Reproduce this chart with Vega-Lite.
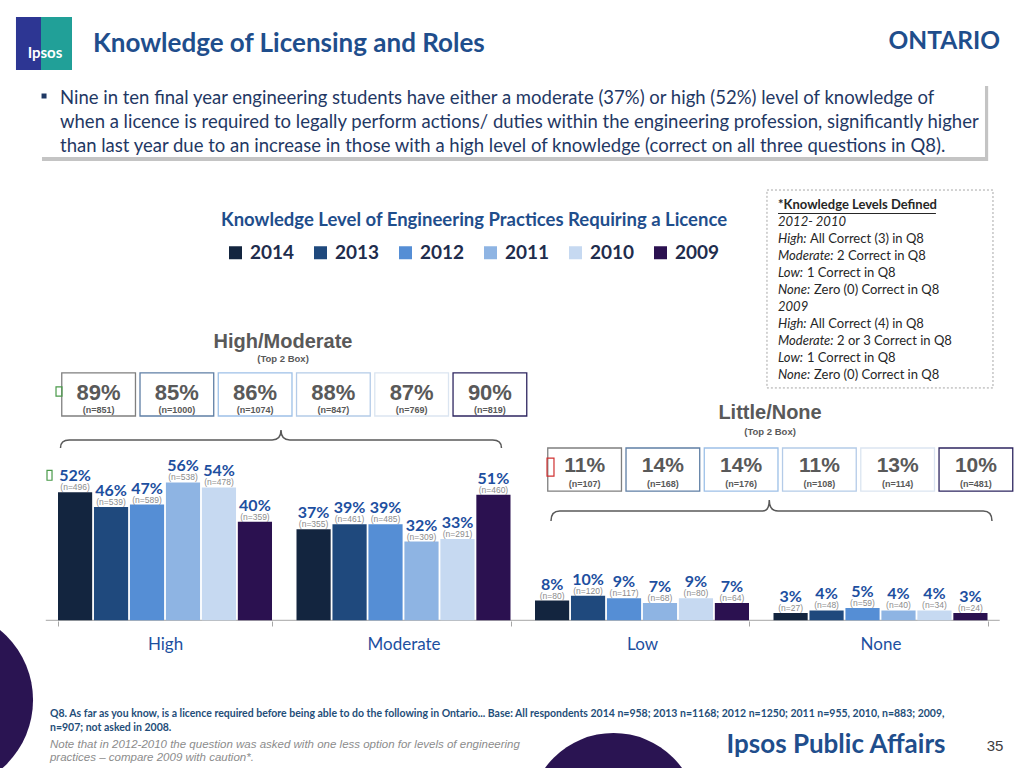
{
  "$schema": "https://vega.github.io/schema/vega-lite/v6.json",
  "width": 1024,
  "height": 768,
  "autosize": {"type": "fit", "contains": "padding"},
  "padding": 0,
  "background": "white",
  "config": {"view": {"stroke": null}, "font": "Lato"},
  "datasets": {
    "bars": [
      {"category": "High", "year": "2014", "pct": 52, "n": 496},
      {"category": "High", "year": "2013", "pct": 46, "n": 539},
      {"category": "High", "year": "2012", "pct": 47, "n": 589},
      {"category": "High", "year": "2011", "pct": 56, "n": 538},
      {"category": "High", "year": "2010", "pct": 54, "n": 478},
      {"category": "High", "year": "2009", "pct": 40, "n": 359},
      {"category": "Moderate", "year": "2014", "pct": 37, "n": 355},
      {"category": "Moderate", "year": "2013", "pct": 39, "n": 461},
      {"category": "Moderate", "year": "2012", "pct": 39, "n": 485},
      {"category": "Moderate", "year": "2011", "pct": 32, "n": 309},
      {"category": "Moderate", "year": "2010", "pct": 33, "n": 291},
      {"category": "Moderate", "year": "2009", "pct": 51, "n": 460},
      {"category": "Low", "year": "2014", "pct": 8, "n": 80},
      {"category": "Low", "year": "2013", "pct": 10, "n": 120},
      {"category": "Low", "year": "2012", "pct": 9, "n": 117},
      {"category": "Low", "year": "2011", "pct": 7, "n": 68},
      {"category": "Low", "year": "2010", "pct": 9, "n": 80},
      {"category": "Low", "year": "2009", "pct": 7, "n": 64},
      {"category": "None", "year": "2014", "pct": 3, "n": 27},
      {"category": "None", "year": "2013", "pct": 4, "n": 48},
      {"category": "None", "year": "2012", "pct": 5, "n": 59},
      {"category": "None", "year": "2011", "pct": 4, "n": 40},
      {"category": "None", "year": "2010", "pct": 4, "n": 34},
      {"category": "None", "year": "2009", "pct": 3, "n": 24}
    ],
    "summary": [
      {"group": "High/Moderate", "year": "2014", "pct": 89, "n": 851},
      {"group": "High/Moderate", "year": "2013", "pct": 85, "n": 1000},
      {"group": "High/Moderate", "year": "2012", "pct": 86, "n": 1074},
      {"group": "High/Moderate", "year": "2011", "pct": 88, "n": 847},
      {"group": "High/Moderate", "year": "2010", "pct": 87, "n": 769},
      {"group": "High/Moderate", "year": "2009", "pct": 90, "n": 819},
      {"group": "Little/None", "year": "2014", "pct": 11, "n": 107},
      {"group": "Little/None", "year": "2013", "pct": 14, "n": 168},
      {"group": "Little/None", "year": "2012", "pct": 14, "n": 176},
      {"group": "Little/None", "year": "2011", "pct": 11, "n": 108},
      {"group": "Little/None", "year": "2010", "pct": 13, "n": 114},
      {"group": "Little/None", "year": "2009", "pct": 10, "n": 481}
    ],
    "definitions": [
      {"line": 0, "label": "*Knowledge Levels Defined", "rest": ""},
      {"line": 1, "label": "2012- 2010", "rest": ""},
      {"line": 2, "label": "High:", "rest": "All Correct (3) in Q8"},
      {"line": 3, "label": "Moderate:", "rest": "2 Correct in Q8"},
      {"line": 4, "label": "Low:", "rest": "1 Correct in Q8"},
      {"line": 5, "label": "None:", "rest": "Zero (0) Correct in Q8"},
      {"line": 6, "label": "2009", "rest": ""},
      {"line": 7, "label": "High:", "rest": "All Correct (4) in Q8"},
      {"line": 8, "label": "Moderate:", "rest": "2 or 3 Correct in Q8"},
      {"line": 9, "label": "Low:", "rest": "1 Correct in Q8"},
      {"line": 10, "label": "None:", "rest": "Zero (0) Correct in Q8"}
    ]
  },
  "resolve": {"scale": {"x": "independent", "y": "independent", "xOffset": "independent"}},
  "layer": [
    {
      "data": {"values": [{}]},
      "layer": [
        {"mark": {"type": "point", "shape": "circle", "filled": true, "size": 33124, "color": "#2a1452", "opacity": 1, "clip": true},
         "encoding": {"x": {"datum": -5.66, "scale": {"domain": [0, 100], "nice": false, "zero": false}, "axis": null},
                      "y": {"datum": -32.4, "scale": {"domain": [-60, 252], "nice": false, "zero": false}, "axis": null}}},
        {"mark": {"type": "point", "shape": "circle", "filled": true, "size": 28561, "color": "#2a1452", "opacity": 1, "clip": true},
         "encoding": {"x": {"datum": 59.91, "scale": {"domain": [0, 100], "nice": false, "zero": false}, "axis": null},
                      "y": {"datum": -80.1, "scale": {"domain": [-60, 252], "nice": false, "zero": false}, "axis": null}}},
        {"mark": {"type": "rect", "color": "#2d3693"},
         "encoding": {"x": {"datum": 1.56, "scale": {"domain": [0, 100], "nice": false, "zero": false}, "axis": null}, "x2": {"datum": 7.03},
                      "y": {"datum": 245.1, "scale": {"domain": [-60, 252], "nice": false, "zero": false}, "axis": null}, "y2": {"datum": 223.6}}},
        {"mark": {"type": "rect", "color": "#21a098"},
         "encoding": {"x": {"datum": 4.0, "scale": {"domain": [0, 100], "nice": false, "zero": false}, "axis": null}, "x2": {"datum": 7.03},
                      "y": {"datum": 245.1, "scale": {"domain": [-60, 252], "nice": false, "zero": false}, "axis": null}, "y2": {"datum": 223.6}}},
        {"mark": {"type": "text", "text": "Ipsos", "font": "Lato", "fontSize": 15, "fontWeight": "bold", "color": "white", "align": "center", "baseline": "middle"},
         "encoding": {"x": {"datum": 4.39, "scale": {"domain": [0, 100], "nice": false, "zero": false}, "axis": null},
                      "y": {"datum": 230.5, "scale": {"domain": [-60, 252], "nice": false, "zero": false}, "axis": null}}},
        {"mark": {"type": "text", "text": "Knowledge of Licensing and Roles", "font": "Lato", "fontSize": 26, "fontWeight": "bold", "color": "#1f4e8c", "align": "left", "baseline": "middle"},
         "encoding": {"x": {"datum": 9.08, "scale": {"domain": [0, 100], "nice": false, "zero": false}, "axis": null},
                      "y": {"datum": 234.1, "scale": {"domain": [-60, 252], "nice": false, "zero": false}, "axis": null}}},
        {"mark": {"type": "text", "text": "ONTARIO", "font": "Lato", "fontSize": 24.5, "fontWeight": "bold", "color": "#1f4e8c", "align": "right", "baseline": "middle"},
         "encoding": {"x": {"datum": 97.66, "scale": {"domain": [0, 100], "nice": false, "zero": false}, "axis": null},
                      "y": {"datum": 234.9, "scale": {"domain": [-60, 252], "nice": false, "zero": false}, "axis": null}}},
        {"mark": {"type": "rect", "color": "#c4c4c4"},
         "encoding": {"x": {"datum": 4.1, "scale": {"domain": [0, 100], "nice": false, "zero": false}, "axis": null}, "x2": {"datum": 96.5},
                      "y": {"datum": 217.1, "scale": {"domain": [-60, 252], "nice": false, "zero": false}, "axis": null}, "y2": {"datum": 186.6}}},
        {"mark": {"type": "rect", "color": "white"},
         "encoding": {"x": {"datum": 3.9, "scale": {"domain": [0, 100], "nice": false, "zero": false}, "axis": null}, "x2": {"datum": 96.19},
                      "y": {"datum": 218.3, "scale": {"domain": [-60, 252], "nice": false, "zero": false}, "axis": null}, "y2": {"datum": 188.2}}},
        {"mark": {"type": "point", "shape": "square", "filled": true, "size": 25, "color": "#1f3864", "opacity": 1},
         "encoding": {"x": {"datum": 4.3, "scale": {"domain": [0, 100], "nice": false, "zero": false}, "axis": null},
                      "y": {"datum": 213.0, "scale": {"domain": [-60, 252], "nice": false, "zero": false}, "axis": null}}},
        {"mark": {"type": "text", "font": "Lato", "fontSize": 18.5, "color": "#1f3864", "align": "left", "baseline": "top", "lineHeight": 24,
                  "text": ["Nine in ten final year engineering students have either a moderate (37%) or high (52%) level of knowledge of",
                           "when a licence is required to legally perform actions/ duties within the engineering profession, significantly higher",
                           "than last year due to an increase in those with a high level of knowledge (correct on all three questions in Q8)."]},
         "encoding": {"x": {"datum": 5.86, "scale": {"domain": [0, 100], "nice": false, "zero": false}, "axis": null},
                      "y": {"datum": 215.9, "scale": {"domain": [-60, 252], "nice": false, "zero": false}, "axis": null}}},
        {"mark": {"type": "text", "text": "Knowledge Level of Engineering Practices Requiring a Licence", "font": "Lato", "fontSize": 18.5, "fontWeight": "bold", "color": "#1f4e8c", "align": "center", "baseline": "middle"},
         "encoding": {"x": {"datum": 46.29, "scale": {"domain": [0, 100], "nice": false, "zero": false}, "axis": null},
                      "y": {"datum": 162.6, "scale": {"domain": [-60, 252], "nice": false, "zero": false}, "axis": null}}},
        {"mark": {"type": "rect", "fill": "white", "stroke": "#a6a6a6", "strokeWidth": 1, "strokeDash": [2, 2]},
         "encoding": {"x": {"datum": 74.9, "scale": {"domain": [0, 100], "nice": false, "zero": false}, "axis": null}, "x2": {"datum": 96.97},
                      "y": {"datum": 174.8, "scale": {"domain": [-60, 252], "nice": false, "zero": false}, "axis": null}, "y2": {"datum": 94.4}}},
        {"mark": {"type": "text", "text": "High/Moderate", "font": "Liberation Sans", "fontSize": 20, "fontWeight": "bold", "color": "#595959", "align": "center", "baseline": "middle"},
         "encoding": {"x": {"datum": 27.64, "scale": {"domain": [0, 100], "nice": false, "zero": false}, "axis": null},
                      "y": {"datum": 113.06, "scale": {"domain": [-60, 252], "nice": false, "zero": false}, "axis": null}}},
        {"mark": {"type": "text", "text": "(Top 2 Box)", "font": "Liberation Sans", "fontSize": 9.5, "fontWeight": "bold", "color": "#595959", "align": "center", "baseline": "middle"},
         "encoding": {"x": {"datum": 27.64, "scale": {"domain": [0, 100], "nice": false, "zero": false}, "axis": null},
                      "y": {"datum": 106.2, "scale": {"domain": [-60, 252], "nice": false, "zero": false}, "axis": null}}},
        {"mark": {"type": "text", "text": "Little/None", "font": "Liberation Sans", "fontSize": 20, "fontWeight": "bold", "color": "#595959", "align": "center", "baseline": "middle"},
         "encoding": {"x": {"datum": 75.2, "scale": {"domain": [0, 100], "nice": false, "zero": false}, "axis": null},
                      "y": {"datum": 84.2, "scale": {"domain": [-60, 252], "nice": false, "zero": false}, "axis": null}}},
        {"mark": {"type": "text", "text": "(Top 2 Box)", "font": "Liberation Sans", "fontSize": 9.5, "fontWeight": "bold", "color": "#595959", "align": "center", "baseline": "middle"},
         "encoding": {"x": {"datum": 75.2, "scale": {"domain": [0, 100], "nice": false, "zero": false}, "axis": null},
                      "y": {"datum": 76.5, "scale": {"domain": [-60, 252], "nice": false, "zero": false}, "axis": null}}},
        {"mark": {"type": "point", "shape": "M-1,0.036Q-1,0 -0.96,0L-0.04,0Q0,0 0,-0.045Q0,0 0.04,0L0.96,0Q1,0 1,0.036", "filled": false, "size": 194481, "color": "#595959", "strokeWidth": 1.5, "opacity": 1},
         "encoding": {"x": {"datum": 27.44, "scale": {"domain": [0, 100], "nice": false, "zero": false}, "axis": null},
                      "y": {"datum": 73.25, "scale": {"domain": [-60, 252], "nice": false, "zero": false}, "axis": null}}},
        {"mark": {"type": "point", "shape": "M-1,0.045Q-1,0 -0.96,0L-0.04,0Q-0.01,0 -0.01,-0.05Q-0.01,0 0.03,0L0.96,0Q1,0 1,0.045", "filled": false, "size": 194481, "color": "#595959", "strokeWidth": 1.5, "opacity": 1},
         "encoding": {"x": {"datum": 75.34, "scale": {"domain": [0, 100], "nice": false, "zero": false}, "axis": null},
                      "y": {"datum": 44.4, "scale": {"domain": [-60, 252], "nice": false, "zero": false}, "axis": null}}},
        {"mark": {"type": "rule", "color": "#a6a6a6", "strokeWidth": 1},
         "encoding": {"x": {"datum": 4.47, "scale": {"domain": [0, 100], "nice": false, "zero": false}, "axis": null}, "x2": {"datum": 97.63},
                      "y": {"datum": 0, "scale": {"domain": [-60, 252], "nice": false, "zero": false}, "axis": null}}},
        {"mark": {"type": "text", "font": "Lato", "fontSize": 10.5, "fontWeight": "bold", "color": "#1f4e79", "align": "left", "baseline": "top", "lineHeight": 14,
                  "text": ["Q8. As far as you know, is a licence required before being able to do the following in Ontario... Base: All respondents 2014 n=958; 2013 n=1168; 2012 n=1250; 2011 n=955, 2010, n=883; 2009,",
                           "n=907; not asked in 2008."]},
         "encoding": {"x": {"datum": 4.88, "scale": {"domain": [0, 100], "nice": false, "zero": false}, "axis": null},
                      "y": {"datum": -35.9, "scale": {"domain": [-60, 252], "nice": false, "zero": false}, "axis": null}}},
        {"mark": {"type": "text", "font": "Liberation Sans", "fontSize": 11.5, "fontStyle": "italic", "color": "#8c8c8c", "align": "left", "baseline": "top", "lineHeight": 13,
                  "text": ["Note that in 2012-2010 the question was asked with one less option for levels of engineering",
                           "practices \u2013 compare 2009 with caution*."]},
         "encoding": {"x": {"datum": 4.88, "scale": {"domain": [0, 100], "nice": false, "zero": false}, "axis": null},
                      "y": {"datum": -48.1, "scale": {"domain": [-60, 252], "nice": false, "zero": false}, "axis": null}}},
        {"mark": {"type": "text", "text": "Ipsos Public Affairs", "font": "Lato", "fontSize": 26, "fontWeight": "bold", "color": "#1f4e8c", "align": "center", "baseline": "middle"},
         "encoding": {"x": {"datum": 81.64, "scale": {"domain": [0, 100], "nice": false, "zero": false}, "axis": null},
                      "y": {"datum": -50.66, "scale": {"domain": [-60, 252], "nice": false, "zero": false}, "axis": null}}},
        {"mark": {"type": "text", "text": "35", "font": "Liberation Sans", "fontSize": 15, "color": "#404040", "align": "center", "baseline": "middle"},
         "encoding": {"x": {"datum": 97.17, "scale": {"domain": [0, 100], "nice": false, "zero": false}, "axis": null},
                      "y": {"datum": -51.07, "scale": {"domain": [-60, 252], "nice": false, "zero": false}, "axis": null}}}
      ]
    },
    {
      "data": {"name": "bars"},
      "encoding": {
        "x": {"field": "category", "type": "nominal", "sort": ["High", "Moderate", "Low", "None"],
              "scale": {"paddingInner": 0.1027, "paddingOuter": 0.1981, "align": 0.6138},
              "axis": {"orient": "bottom", "offset": -147, "title": null, "domain": false, "grid": false, "ticks": true, "tickBand": "extent", "tickOffset": -12.25, "tickSize": 5, "tickColor": "#a6a6a6",
                       "labelFont": "Lato", "labelFontSize": 17, "labelColor": "#1d4fa0", "labelPadding": 10, "labelAngle": 0}},
        "xOffset": {"field": "year", "type": "nominal", "sort": ["2014", "2013", "2012", "2011", "2010", "2009"], "scale": {"paddingInner": 0.05}},
        "y": {"field": "pct", "type": "quantitative", "scale": {"domain": [-60, 252], "nice": false, "zero": false}, "axis": null}
      },
      "layer": [
        {"mark": {"type": "bar"},
         "encoding": {"y2": {"datum": 0},
                      "color": {"field": "year", "type": "nominal", "sort": ["2014", "2013", "2012", "2011", "2010", "2009"],
                                "scale": {"domain": ["2014", "2013", "2012", "2011", "2010", "2009"], "range": ["#13253f", "#1f497d", "#558ed5", "#8eb4e3", "#c6d9f1", "#2b1150"]},
                                "legend": {"orient": "none", "legendX": 226, "legendY": 243, "direction": "horizontal", "title": null, "symbolType": "square", "symbolSize": 169, "symbolStrokeWidth": 0,
                                           "labelFont": "Lato", "labelFontSize": 19, "labelFontWeight": "bold", "labelColor": "#1f2d4d", "labelOffset": 5, "columnPadding": 16}}}},
        {"mark": {"type": "text", "dy": -5, "align": "center", "baseline": "middle", "font": "Liberation Sans", "fontSize": 8.5, "color": "#8c8c8c", "text": {"expr": "'(n=' + datum.n + ')'"}}},
        {"mark": {"type": "text", "dy": -16, "align": "center", "baseline": "middle", "font": "Lato", "fontSize": 16, "fontWeight": "bold", "color": "#1d4fa0", "text": {"expr": "datum.pct + '%'"}}}
      ]
    },
    {
      "data": {"name": "summary"},
      "encoding": {
        "x": {"field": "group", "type": "nominal", "sort": ["High/Moderate", "Little/None"], "scale": {"paddingInner": 0.0432, "paddingOuter": 0.0751, "align": 0.846}, "axis": null},
        "xOffset": {"field": "year", "type": "nominal", "sort": ["2014", "2013", "2012", "2011", "2010", "2009"], "scale": {"paddingInner": 0.058}}
      },
      "layer": [
        {"transform": [{"filter": "datum.group === 'High/Moderate'"}],
         "mark": {"type": "bar", "filled": false, "strokeWidth": 1.3},
         "encoding": {"y": {"datum": 100.5, "scale": {"domain": [-60, 252], "nice": false, "zero": false}, "axis": null}, "y2": {"datum": 83},
                      "stroke": {"field": "year", "type": "nominal", "scale": {"domain": ["2014", "2013", "2012", "2011", "2010", "2009"], "range": ["#7f7f7f", "#5f7fa5", "#9dc0e8", "#b4cbe8", "#dbe5f1", "#2e2660"]}, "legend": null}}},
        {"transform": [{"filter": "datum.group === 'Little/None'"}],
         "mark": {"type": "bar", "filled": false, "strokeWidth": 1.3},
         "encoding": {"y": {"datum": 70, "scale": {"domain": [-60, 252], "nice": false, "zero": false}, "axis": null}, "y2": {"datum": 52.5},
                      "stroke": {"field": "year", "type": "nominal", "scale": {"domain": ["2014", "2013", "2012", "2011", "2010", "2009"], "range": ["#7f7f7f", "#5f7fa5", "#9dc0e8", "#b4cbe8", "#dbe5f1", "#2e2660"]}, "legend": null}}},
        {"transform": [{"filter": "datum.group === 'High/Moderate'"}],
         "mark": {"type": "text", "align": "center", "baseline": "middle", "font": "Liberation Sans", "fontSize": 22, "fontWeight": "bold", "color": "#595959", "text": {"expr": "datum.pct + '%'"}},
         "encoding": {"y": {"datum": 92.3, "scale": {"domain": [-60, 252], "nice": false, "zero": false}, "axis": null}}},
        {"transform": [{"filter": "datum.group === 'Little/None'"}],
         "mark": {"type": "text", "align": "center", "baseline": "middle", "font": "Liberation Sans", "fontSize": 21, "fontWeight": "bold", "color": "#595959", "text": {"expr": "datum.pct + '%'"}},
         "encoding": {"y": {"datum": 62.7, "scale": {"domain": [-60, 252], "nice": false, "zero": false}, "axis": null}}},
        {"transform": [{"filter": "datum.group === 'High/Moderate'"}],
         "mark": {"type": "text", "align": "center", "baseline": "middle", "font": "Liberation Sans", "fontSize": 9, "fontWeight": "bold", "color": "#595959", "text": {"expr": "'(n=' + datum.n + ')'"}},
         "encoding": {"y": {"datum": 85.4, "scale": {"domain": [-60, 252], "nice": false, "zero": false}, "axis": null}}},
        {"transform": [{"filter": "datum.group === 'Little/None'"}],
         "mark": {"type": "text", "align": "center", "baseline": "middle", "font": "Liberation Sans", "fontSize": 9, "fontWeight": "bold", "color": "#595959", "text": {"expr": "'(n=' + datum.n + ')'"}},
         "encoding": {"y": {"datum": 55.3, "scale": {"domain": [-60, 252], "nice": false, "zero": false}, "axis": null}}}
      ]
    },
    {
      "data": {"values": [{}]},
      "layer": [
        {"mark": {"type": "rect", "filled": false, "stroke": "#4a9a4a", "strokeWidth": 1.2},
         "encoding": {"x": {"datum": 4.59, "scale": {"domain": [0, 100], "nice": false, "zero": false}, "axis": null}, "x2": {"datum": 5.08},
                      "y": {"datum": 60.9, "scale": {"domain": [-60, 252], "nice": false, "zero": false}, "axis": null}, "y2": {"datum": 56.9}}},
        {"mark": {"type": "rect", "filled": false, "stroke": "#4a9a4a", "strokeWidth": 1.2},
         "encoding": {"x": {"datum": 5.47, "scale": {"domain": [0, 100], "nice": false, "zero": false}, "axis": null}, "x2": {"datum": 6.05},
                      "y": {"datum": 94.8, "scale": {"domain": [-60, 252], "nice": false, "zero": false}, "axis": null}, "y2": {"datum": 91.1}}},
        {"mark": {"type": "rect", "filled": false, "stroke": "#d03030", "strokeWidth": 1.2},
         "encoding": {"x": {"datum": 53.42, "scale": {"domain": [0, 100], "nice": false, "zero": false}, "axis": null}, "x2": {"datum": 54.1},
                      "y": {"datum": 65.9, "scale": {"domain": [-60, 252], "nice": false, "zero": false}, "axis": null}, "y2": {"datum": 58.6}}}
      ]
    },
    {
      "data": {"name": "definitions"},
      "layer": [
        {"transform": [{"filter": "datum.line === 0"}],
         "mark": {"type": "text", "align": "left", "baseline": "middle", "font": "Lato", "fontSize": 13, "fontWeight": "bold", "color": "#262626"},
         "encoding": {"x": {"datum": 75.98, "scale": {"domain": [0, 100], "nice": false, "zero": false}, "axis": null},
                      "y": {"field": "line", "type": "quantitative", "scale": {"domain": [-12.059, 33.118], "reverse": true, "nice": false, "zero": false}, "axis": null},
                      "text": {"field": "label"}}},
        {"transform": [{"filter": "datum.line === 0"}],
         "mark": {"type": "rule", "color": "#262626", "strokeWidth": 1},
         "encoding": {"x": {"datum": 75.98, "scale": {"domain": [0, 100], "nice": false, "zero": false}, "axis": null}, "x2": {"datum": 91.4},
                      "y": {"datum": 0.5, "scale": {"domain": [-12.059, 33.118], "reverse": true, "nice": false, "zero": false}, "axis": null}}},
        {"transform": [{"filter": "datum.line > 0"}],
         "mark": {"type": "text", "align": "left", "baseline": "middle", "font": "Lato", "fontSize": 13, "fontStyle": "italic", "color": "#262626"},
         "encoding": {"x": {"datum": 75.98, "scale": {"domain": [0, 100], "nice": false, "zero": false}, "axis": null},
                      "y": {"field": "line", "type": "quantitative", "scale": {"domain": [-12.059, 33.118], "reverse": true, "nice": false, "zero": false}, "axis": null},
                      "text": {"field": "label"}}},
        {"transform": [{"filter": "datum.label === 'High:'"}],
         "mark": {"type": "text", "align": "left", "baseline": "middle", "font": "Lato", "fontSize": 13, "color": "#262626"},
         "encoding": {"x": {"datum": 79.1, "scale": {"domain": [0, 100], "nice": false, "zero": false}, "axis": null},
                      "y": {"field": "line", "type": "quantitative", "scale": {"domain": [-12.059, 33.118], "reverse": true, "nice": false, "zero": false}, "axis": null},
                      "text": {"field": "rest"}}},
        {"transform": [{"filter": "datum.label === 'Moderate:'"}],
         "mark": {"type": "text", "align": "left", "baseline": "middle", "font": "Lato", "fontSize": 13, "color": "#262626"},
         "encoding": {"x": {"datum": 81.75, "scale": {"domain": [0, 100], "nice": false, "zero": false}, "axis": null},
                      "y": {"field": "line", "type": "quantitative", "scale": {"domain": [-12.059, 33.118], "reverse": true, "nice": false, "zero": false}, "axis": null},
                      "text": {"field": "rest"}}},
        {"transform": [{"filter": "datum.label === 'Low:'"}],
         "mark": {"type": "text", "align": "left", "baseline": "middle", "font": "Lato", "fontSize": 13, "color": "#262626"},
         "encoding": {"x": {"datum": 78.8, "scale": {"domain": [0, 100], "nice": false, "zero": false}, "axis": null},
                      "y": {"field": "line", "type": "quantitative", "scale": {"domain": [-12.059, 33.118], "reverse": true, "nice": false, "zero": false}, "axis": null},
                      "text": {"field": "rest"}}},
        {"transform": [{"filter": "datum.label === 'None:'"}],
         "mark": {"type": "text", "align": "left", "baseline": "middle", "font": "Lato", "fontSize": 13, "color": "#262626"},
         "encoding": {"x": {"datum": 79.5, "scale": {"domain": [0, 100], "nice": false, "zero": false}, "axis": null},
                      "y": {"field": "line", "type": "quantitative", "scale": {"domain": [-12.059, 33.118], "reverse": true, "nice": false, "zero": false}, "axis": null},
                      "text": {"field": "rest"}}}
      ]
    }
  ]
}
